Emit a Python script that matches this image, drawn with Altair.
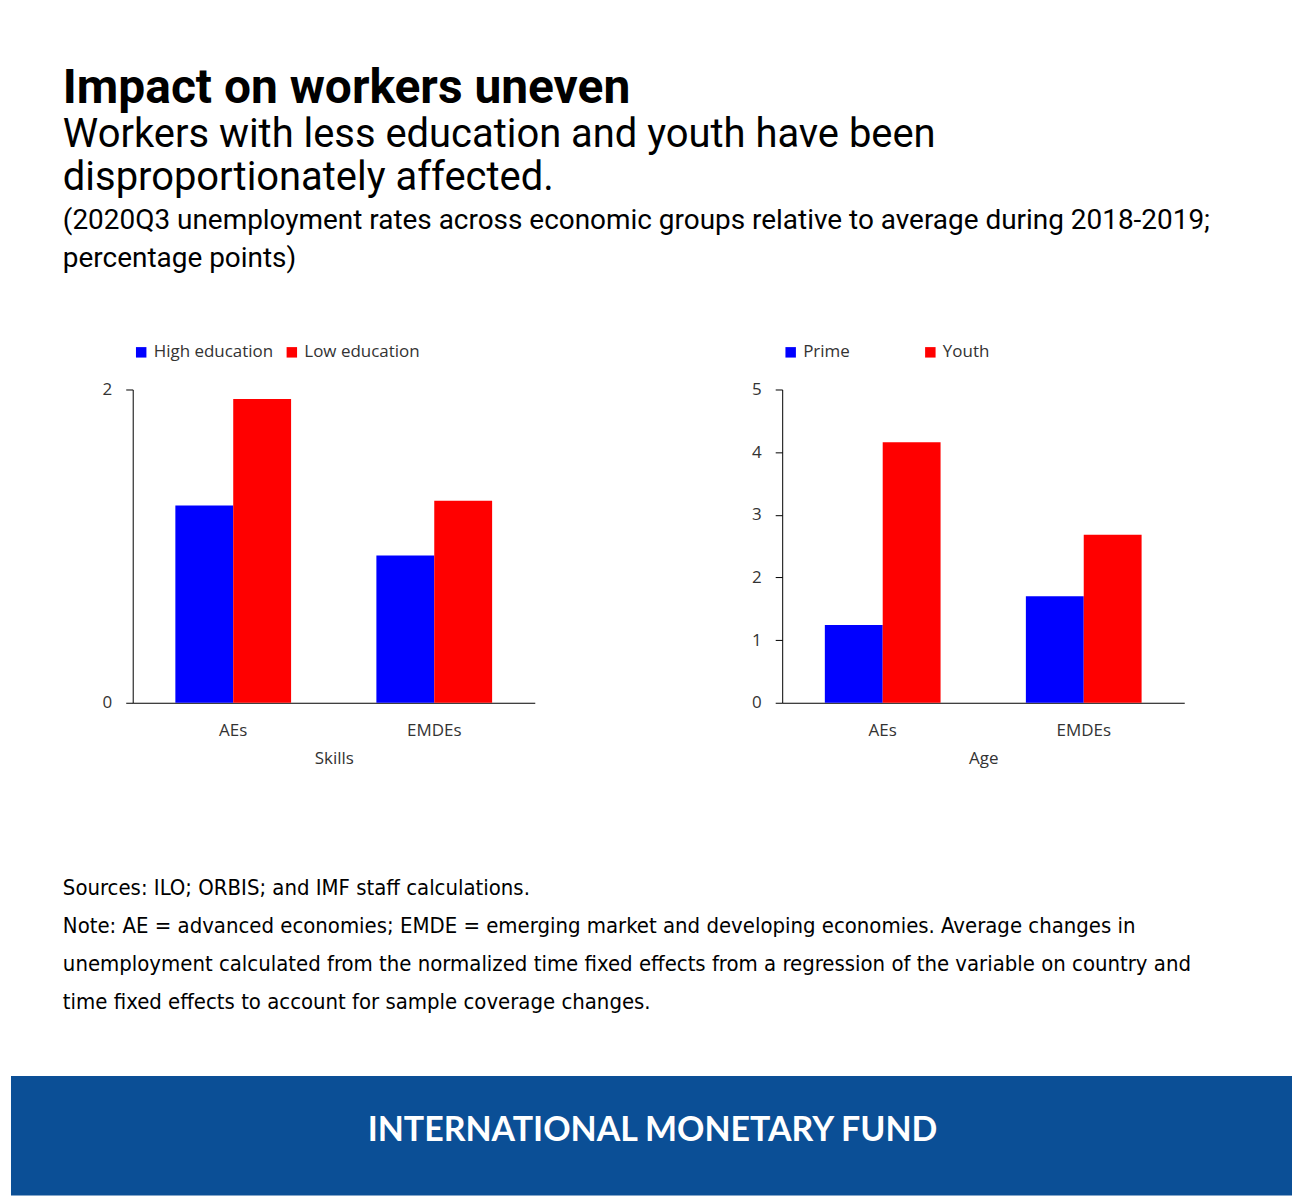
import altair as alt
import pandas as pd

regions = ["AEs", "EMDEs"]
skill_groups = ["High education", "Low education"]
skill_values = [[1.26, 1.94], [0.94, 1.29]]
age_groups = ["Prime", "Youth"]
age_values = [[1.24, 4.16], [1.70, 2.68]]

FONT = "Open Sans"
NOTE_FONT = "DejaVu Sans Condensed"
BLUE, RED = "#0000FF", "#FF0000"
W = 1284
BAR_W = 58


def frame(groups, values):
    return pd.DataFrame(
        [{"region": r, "group": g, "value": values[i][j]}
         for i, r in enumerate(regions) for j, g in enumerate(groups)]
    )


def panel(df, groups, title, domain, ticks, col_pad):
    base = alt.Chart(df).encode(
        x=alt.X("region:N", sort=regions,
                scale=alt.Scale(paddingInner=0.424, paddingOuter=0.212),
                axis=alt.Axis(title=title, labelAngle=0, ticks=False,
                              labelPadding=20, titlePadding=12,
                              domainColor="black", labelFontSize=17,
                              titleFontSize=17, titleFontWeight="normal",
                              labelColor="#333", titleColor="#333")),
        y=alt.Y("value:Q", scale=alt.Scale(domain=domain, nice=False),
                axis=alt.Axis(title=None, values=ticks, grid=False, format="d",
                              tickSize=7, labelPadding=14, domainColor="black",
                              tickColor="black", labelFontSize=17,
                              labelColor="#333")),
        color=alt.Color("group:N", sort=groups,
                        scale=alt.Scale(domain=groups, range=[BLUE, RED]),
                        legend=alt.Legend(orient="top", direction="horizontal",
                                          title=None, symbolType="square",
                                          symbolSize=110, labelFontSize=17,
                                          labelColor="#333", columnPadding=col_pad,
                                          offset=29, padding=0,
                                          labelLimit=300)),
    )
    layers = [
        base.transform_filter(alt.datum.group == g)
        .mark_bar(size=BAR_W, xOffset=(i - 0.5) * BAR_W)
        for i, g in enumerate(groups)
    ]
    return alt.layer(*layers).properties(width=403, height=314)


def spacer(w, h=10):
    return (alt.Chart(pd.DataFrame({"a": [0]})).mark_point(opacity=0)
            .encode(x=alt.value(0), y=alt.value(0)).properties(width=w, height=h))


def text_block(lines, width, height):
    layers = []
    for t, x, y, size, weight, font in lines:
        layers.append(
            alt.Chart(pd.DataFrame({"t": [t]})).mark_text(
                align="left", baseline="alphabetic", fontSize=size,
                fontWeight=weight, font=font, color="black")
            .encode(text="t:N", x=alt.value(x), y=alt.value(y))
        )
    return alt.layer(*layers).properties(width=width, height=height)


header = text_block([
    ("Impact on workers uneven", 52, 94, 48, "bold", "Roboto"),
    ("Workers with less education and youth have been", 52, 138, 40, "normal", "Roboto"),
    ("disproportionately affected.", 52, 181, 40, "normal", "Roboto"),
    ("(2020Q3 unemployment rates across economic groups relative to average during 2018-2019;",
     52, 220, 28, "normal", "Roboto"),
    ("percentage points)", 52, 258, 28, "normal", "Roboto"),
], W, 335)

notes = text_block([
    ("Sources: ILO; ORBIS; and IMF staff calculations.", 52, 129, 22, "normal", NOTE_FONT),
    ("Note: AE = advanced economies; EMDE = emerging market and developing economies. Average changes in",
     52, 167, 22, "normal", NOTE_FONT),
    ("unemployment calculated from the normalized time fixed effects from a regression of the variable on country and",
     52, 205, 22, "normal", NOTE_FONT),
    ("time fixed effects to account for sample coverage changes.", 52, 243, 22, "normal", NOTE_FONT),
], W, 310)

footer = alt.layer(
    alt.Chart(pd.DataFrame({"a": [0]})).mark_rect(color="#0B4F96")
    .encode(x=alt.value(0), x2=alt.value(W), y=alt.value(0), y2=alt.value(120)),
    alt.Chart(pd.DataFrame({"t": ["INTERNATIONAL MONETARY FUND"]}))
    .mark_text(fontSize=34, fontWeight="bold", font="Lato", color="white")
    .encode(text="t:N", x=alt.value(643), y=alt.value(55)),
).properties(width=W, height=110)

left = panel(frame(skill_groups, skill_values), skill_groups, "Skills", [0, 2], [0, 1, 2], 10)
right = panel(frame(age_groups, age_values), age_groups, "Age", [0, 5], [0, 1, 2, 3, 4, 5], 72)

middle = alt.hconcat(spacer(91), left, spacer(214), right, spacing=0).resolve_scale(
    color="independent")

chart = (
    alt.vconcat(header, middle, notes, footer, spacing=0)
    .properties(padding=0)
    .configure(font=FONT)
    .configure_view(stroke=None)
)

chart.save("out.html", embed_options={"renderer": "svg", "actions": False})
